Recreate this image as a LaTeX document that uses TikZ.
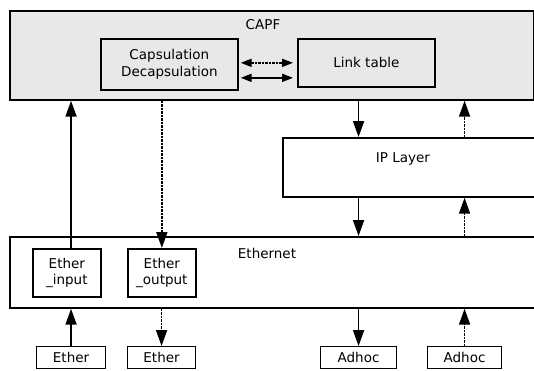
\documentclass[tikz,border=0pt]{standalone}
\usepackage{fontspec}
\setmainfont{DejaVu Sans}
\usetikzlibrary{arrows.meta, positioning, calc}

\tikzset{
  blk/.style={rectangle, draw, line width=1.7pt, anchor=north west, inner sep=0pt},
  capbox/.style={blk, fill=gray!18, align=center},
  etherbox/.style={blk, fill=white, align=center},
  arr/.style={line width=1.8pt, -{Triangle[width=11pt,length=16pt]}},
  dbl/.style={line width=1.8pt, {Triangle[width=8pt,length=11pt]}-{Triangle[width=8pt,length=11pt]}},
  dots/.style={dash pattern=on 2.5pt off 1pt}
}

\begin{document}
\begin{tikzpicture}[x=1pt,y=-1pt,font=\fontsize{13.5}{16.5}\selectfont]
\useasboundingbox (0,0) rectangle (534,370);

% CAPF
\node[capbox, minimum width=524, minimum height=89] (capf) at (9,10) {};
\node (capftxt) at (263,25) {CAPF};
\node[capbox, minimum width=137, minimum height=51] (caps) at (100,38) {Capsulation\\Decapsulation};
\node[capbox, minimum width=137, minimum height=48] (link) at (297,38) {Link table};

% IP layer
\node[blk, fill=white, minimum width=260, minimum height=59] (ip) at (282,137) {};
\node (iptxt) at (403,159) {IP Layer};

% Ethernet
\node[blk, fill=white, minimum width=535, minimum height=71] (eth) at (9,236) {};
\node (ethtxt) at (267,253) {Ethernet};
\node[etherbox, minimum width=68, minimum height=48] (ein) at (32,248) {Ether\\\_input};
\node[etherbox, minimum width=68, minimum height=48] (eout) at (127,248) {Ether\\\_output};

% Bottom boxes
\node[etherbox, line width=1.1pt, minimum width=69, minimum height=22] (bein) at (36,346) {Ether};
\node[etherbox, line width=1.1pt, minimum width=68, minimum height=22] (beout) at (127,346) {Ether};
\node[etherbox, line width=1.1pt, minimum width=76, minimum height=22] (bad1) at (320,346) {Adhoc};
\node[etherbox, line width=1.1pt, minimum width=74, minimum height=22] (bad2) at (427,346) {Adhoc};

% Arrows inside CAPF
\draw[dbl, dots] ([xshift=2pt,yshift=1.5pt]caps.east) -- ([xshift=-4pt,yshift=1.5pt]caps.east -| link.west);
\draw[dbl] ([xshift=2pt,yshift=-13.5pt]caps.east) -- ([xshift=-4pt,yshift=-13.5pt]caps.east -| link.west);

% Ether input path
\draw[arr] (bein.north) -- (bein.north |- eth.south);
\draw[arr] (ein.north -| bein.north) -- (capf.south -| bein.north);

% Ether output path
\draw[arr, dots] (capf.south -| eout.north) -- (eout.north);
\draw[arr, dots] (eth.south -| beout.north) -- (beout.north);

% Adhoc output path
\draw[arr] (capf.south -| bad1.north) -- (ip.north -| bad1.north);
\draw[arr] (ip.south -| bad1.north) -- (eth.north -| bad1.north);
\draw[arr] (eth.south -| bad1.north) -- (bad1.north);

% Adhoc input path
\draw[arr, dots] (bad2.north) -- (bad2.north |- eth.south);
\draw[arr, dots] (eth.north -| bad2.north) -- (ip.south -| bad2.north);
\draw[arr, dots] (ip.north -| bad2.north) -- (capf.south -| bad2.north);
\end{tikzpicture}
\end{document}
